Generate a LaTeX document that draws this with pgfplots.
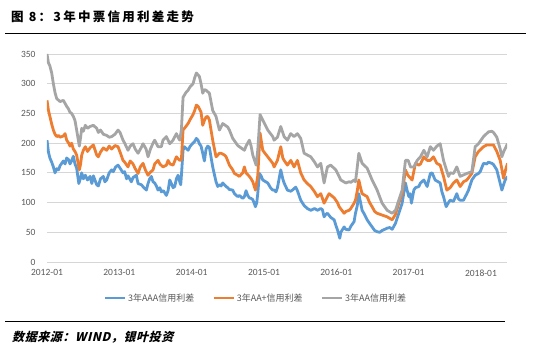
\documentclass[border=0pt]{standalone}
\usepackage{pgfplots}
\pgfplotsset{compat=1.18}
\usepackage{pgfplotstable}
\usepackage{fontspec}
\setmainfont{Carlito}
\newfontfamily\cjk{Noto Sans CJK SC}
\newfontfamily\cjkt{Noto Sans CJK SC}[LetterSpace=18]
\newfontfamily\cjkit{Noto Sans CJK SC}[FakeSlant=0.25,LetterSpace=5]
\definecolor{cblue}{HTML}{5B9BD5}
\definecolor{corange}{HTML}{ED7D31}
\definecolor{cgray}{HTML}{A5A5A5}
\definecolor{ctext}{HTML}{595959}

\pgfplotstableread{
t v
0.000 205
0.020 185
0.040 175
0.065 168
0.088 160
0.111 150
0.134 157
0.160 155
0.180 162
0.226 170
0.250 165
0.272 175
0.300 172
0.318 165
0.340 170
0.364 178
0.387 165
0.410 158
0.440 132
0.460 140
0.480 150
0.502 140
0.530 146
0.560 138
0.595 144
0.620 132
0.641 145
0.687 130
0.710 128
0.740 140
0.779 144
0.800 135
0.825 138
0.860 150
0.894 155
0.917 152
0.950 160
0.982 163
1.010 158
1.051 150
1.074 152
1.100 140
1.120 145
1.166 135
1.189 142
1.235 146
1.259 132
1.305 130
1.340 125
1.374 121
1.397 132
1.420 140
1.443 144
1.466 135
1.489 133
1.512 128
1.535 121
1.560 125
1.581 118
1.610 120
1.650 112
1.674 120
1.697 138
1.720 132
1.743 125
1.766 127
1.789 140
1.812 146
1.835 135
1.849 130
1.858 145
1.881 188
1.900 194
1.950 188
1.980 195
2.019 200
2.042 203
2.065 208
2.088 205
2.107 199
2.130 195
2.153 183
2.176 170
2.199 190
2.222 195
2.245 193
2.291 160
2.337 135
2.361 127
2.384 130
2.407 128
2.430 133
2.453 130
2.476 127
2.499 125
2.522 122
2.568 121
2.591 115
2.637 110
2.660 112
2.706 107
2.729 110
2.752 120
2.775 112
2.798 108
2.822 107
2.845 105
2.868 98
2.882 93
2.900 100
2.914 115
2.937 149
2.960 145
2.983 138
3.052 133
3.090 125
3.121 121
3.140 121
3.167 118
3.186 125
3.232 155
3.260 140
3.278 133
3.324 121
3.370 119
3.393 121
3.439 126
3.462 120
3.508 104
3.555 95
3.600 90
3.647 87
3.700 90
3.739 87
3.785 90
3.808 88
3.831 76
3.854 80
3.877 82
3.923 75
3.970 71
3.993 62
4.016 54
4.048 40
4.062 50
4.108 59
4.131 55
4.177 54
4.200 60
4.246 68
4.265 82
4.290 95
4.311 115
4.335 100
4.357 87
4.390 80
4.426 71
4.460 65
4.495 59
4.530 53
4.564 51
4.600 50
4.633 53
4.670 55
4.703 57
4.740 58
4.772 55
4.818 65
4.864 82
4.910 99
4.956 133
4.980 120
5.003 110
5.020 115
5.039 99
5.072 121
5.094 125
5.141 127
5.164 133
5.210 138
5.256 127
5.300 149
5.325 150
5.366 138
5.436 133
5.460 118
5.482 110
5.519 93
5.551 100
5.574 104
5.620 102
5.666 115
5.690 106
5.712 104
5.759 104
5.805 115
5.828 121
5.874 138
5.920 146
5.966 149
5.989 152
6.035 166
6.080 165
6.104 168
6.151 166
6.173 164
6.219 155
6.250 140
6.289 121
6.312 130
6.335 138
6.367 144
}\aaa

\pgfplotstableread{
t v
0.000 272
0.020 255
0.040 245
0.065 232
0.088 222
0.111 215
0.134 211
0.160 213
0.180 210
0.226 212
0.250 216
0.272 205
0.300 200
0.318 195
0.340 200
0.364 190
0.387 186
0.410 180
0.447 155
0.465 165
0.480 180
0.502 188
0.530 194
0.560 186
0.595 192
0.641 197
0.660 190
0.687 180
0.710 177
0.740 185
0.779 192
0.825 188
0.860 195
0.894 190
0.940 196
0.982 194
1.010 185
1.051 171
1.074 168
1.120 160
1.150 170
1.189 165
1.220 157
1.259 149
1.290 160
1.328 166
1.360 155
1.397 146
1.420 150
1.466 155
1.489 165
1.535 171
1.560 165
1.604 160
1.650 163
1.674 171
1.700 165
1.743 163
1.789 177
1.812 174
1.835 171
1.858 172
1.881 222
1.920 228
1.950 233
1.980 240
2.019 248
2.042 255
2.065 264
2.088 262
2.107 258
2.130 252
2.153 230
2.176 238
2.199 244
2.222 245
2.245 239
2.291 205
2.337 177
2.361 180
2.384 183
2.407 183
2.453 180
2.476 177
2.522 163
2.568 155
2.591 149
2.637 146
2.660 144
2.706 150
2.729 160
2.752 150
2.798 144
2.822 140
2.845 135
2.882 121
2.914 145
2.946 217
2.983 188
3.020 182
3.052 177
3.121 166
3.140 160
3.186 171
3.232 194
3.260 175
3.278 171
3.324 163
3.370 171
3.416 160
3.462 171
3.508 150
3.555 138
3.600 132
3.647 127
3.700 118
3.739 110
3.785 115
3.831 99
3.877 110
3.900 115
3.970 108
4.016 100
4.039 93
4.108 82
4.131 85
4.177 87
4.200 90
4.246 99
4.265 104
4.290 120
4.311 138
4.335 125
4.357 115
4.426 110
4.460 100
4.495 93
4.530 85
4.564 82
4.633 79
4.703 76
4.772 71
4.818 80
4.864 99
4.910 115
4.956 155
4.980 148
5.003 144
5.048 138
5.094 166
5.141 163
5.164 165
5.210 177
5.256 171
5.300 171
5.343 177
5.390 166
5.436 163
5.482 144
5.528 121
5.574 125
5.620 133
5.666 138
5.712 127
5.759 135
5.805 138
5.874 149
5.920 177
5.966 186
6.035 194
6.080 197
6.104 197
6.173 197
6.219 186
6.266 171
6.312 141
6.340 155
6.367 166
}\aap

\pgfplotstableread{
t v
0.000 350
0.020 335
0.040 330
0.065 318
0.088 300
0.111 285
0.134 275
0.180 270
0.226 272
0.272 262
0.295 258
0.318 252
0.341 250
0.364 245
0.387 238
0.410 222
0.447 195
0.465 210
0.480 225
0.502 220
0.530 230
0.560 225
0.595 228
0.641 230
0.687 225
0.710 218
0.740 222
0.779 215
0.825 213
0.860 210
0.894 211
0.940 215
0.982 222
1.010 218
1.051 205
1.074 200
1.120 188
1.150 195
1.189 199
1.220 190
1.259 183
1.300 192
1.328 199
1.370 190
1.397 177
1.430 190
1.466 200
1.489 205
1.535 194
1.581 194
1.604 205
1.650 211
1.674 205
1.697 199
1.743 205
1.789 216
1.812 210
1.835 205
1.858 222
1.881 277
1.920 285
1.950 289
1.980 295
2.019 300
2.042 310
2.065 318
2.088 315
2.107 312
2.130 300
2.153 284
2.176 290
2.199 289
2.245 284
2.291 255
2.337 245
2.384 222
2.430 233
2.453 231
2.499 227
2.522 222
2.568 208
2.637 196
2.660 194
2.706 190
2.729 188
2.752 195
2.798 205
2.822 195
2.845 180
2.891 163
2.914 188
2.946 248
2.983 239
3.052 222
3.121 211
3.140 205
3.186 210
3.232 228
3.278 211
3.324 205
3.370 216
3.416 211
3.462 216
3.508 208
3.555 183
3.600 180
3.647 177
3.700 168
3.739 160
3.785 166
3.831 133
3.877 160
3.923 163
3.993 155
4.062 138
4.131 133
4.177 135
4.200 134
4.246 138
4.265 135
4.290 160
4.311 183
4.357 166
4.426 158
4.495 138
4.564 121
4.633 99
4.703 87
4.772 82
4.818 87
4.864 104
4.910 121
4.956 171
4.993 171
5.026 160
5.072 160
5.118 171
5.164 177
5.210 188
5.256 177
5.300 194
5.343 188
5.390 195
5.436 199
5.482 171
5.551 144
5.574 150
5.620 149
5.666 160
5.712 144
5.805 149
5.874 152
5.920 194
5.966 199
6.035 211
6.104 219
6.151 220
6.173 218
6.219 210
6.266 190
6.289 177
6.312 185
6.367 199
}\aa

\begin{document}
\begin{tikzpicture}
\path[fill=white,use as bounding box] (0,0) rectangle (544pt,354pt);
\node[anchor=west,inner sep=0pt,font=\cjkt\bfseries\fontsize{12.5}{14}\selectfont] at (11pt,337pt) {图 8：3年中票信用利差走势};
\draw[line width=1pt] (5pt,320pt) -- (526pt,320pt);
\begin{axis}[
  at={(47pt,92pt)}, anchor=south west,
  scale only axis, width=460pt, height=208pt,
  xmin=0, xmax=6.36, ymin=0, ymax=350,
  ytick={0,50,...,350},
  xtick={0,1,2,3,4,5,6},
  xticklabels={2012-01,2013-01,2014-01,2015-01,2016-01,2017-01,2018-01},
  axis line style={draw=none},
  ymajorgrids,
  grid style={draw=black!16,line width=0.8pt},
  major tick length=0pt,
  tick label style={font=\fontsize{9.5}{11}\selectfont,text=ctext},
  yticklabel style={xshift=-8pt},
  xticklabel style={yshift=-4pt},
  /pgf/number format/assume math mode=true,
  legend columns=3,
  legend style={at={(0.454,-0.173)},anchor=center,draw=none,fill=none,
    font=\cjk\fontsize{9}{10}\selectfont,text=ctext,
    /tikz/every even column/.append style={column sep=16pt}},
  legend image code/.code={\draw[#1,line width=2.5pt] (0pt,0pt)--(20pt,0pt);},
  every axis plot/.append style={no markers,line width=2.8pt,line join=round},
]
\addplot[cblue] table[x=t,y=v] {\aaa};
\addlegendentry{3年AAA信用利差}
\addplot[corange] table[x=t,y=v] {\aap};
\addlegendentry{3年AA+信用利差}
\addplot[cgray] table[x=t,y=v] {\aa};
\addlegendentry{3年AA信用利差}
\end{axis}
\draw[line width=1pt] (5pt,33pt) -- (505pt,33pt);
\node[anchor=west,inner sep=0pt,font=\cjkit\bfseries\fontsize{12}{14}\selectfont] at (12pt,17pt) {数据来源：WIND，银叶投资};
\end{tikzpicture}
\end{document}
